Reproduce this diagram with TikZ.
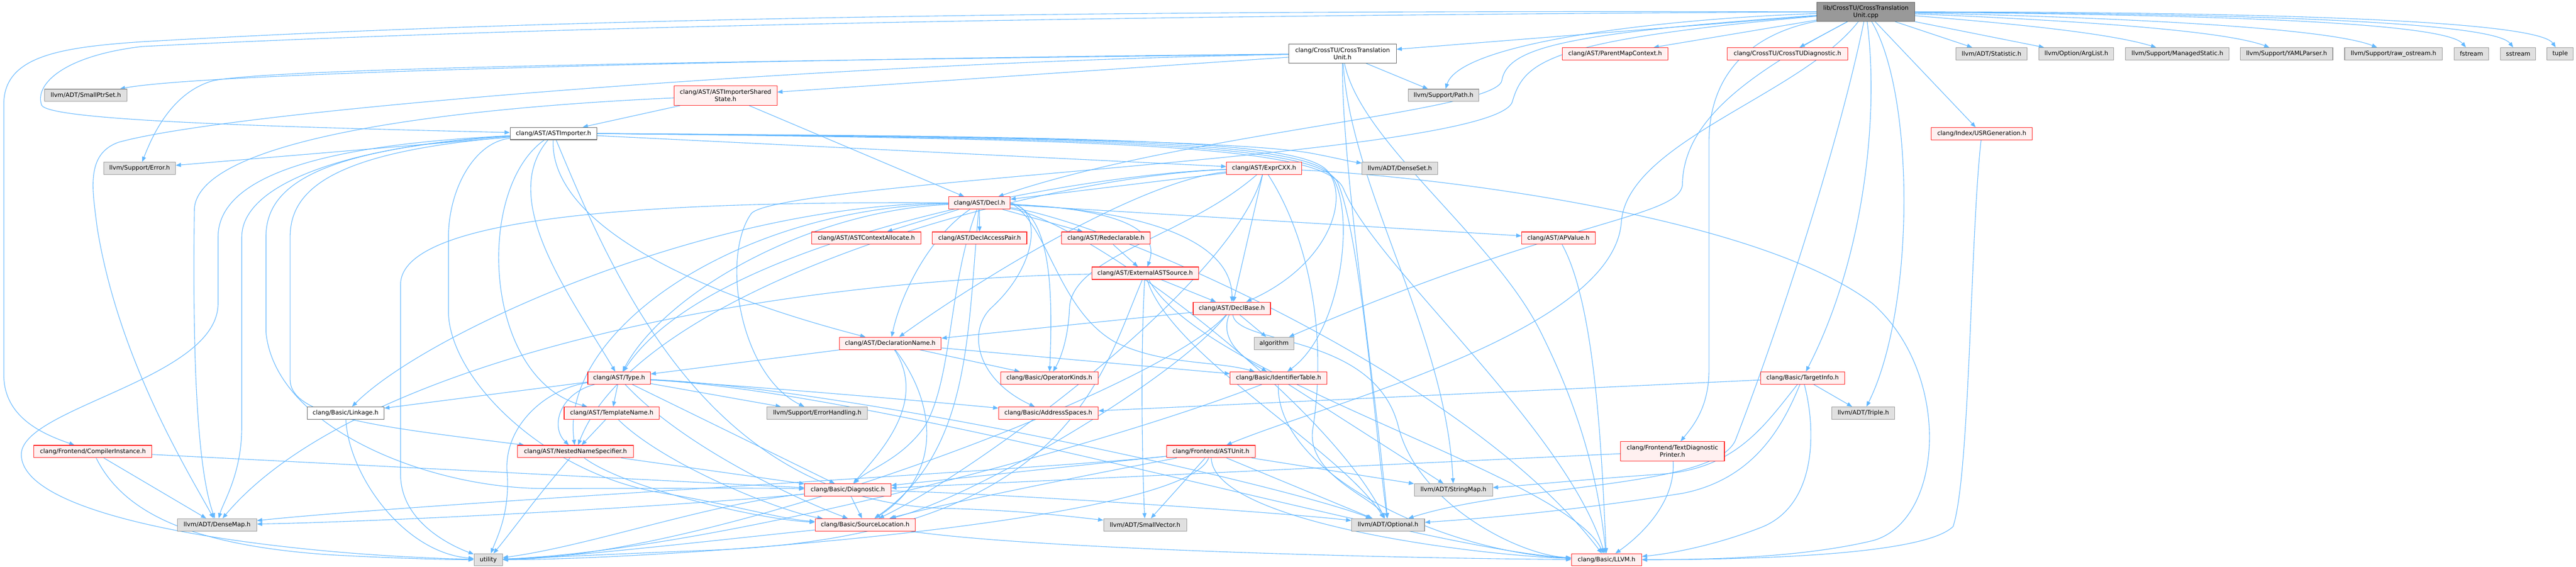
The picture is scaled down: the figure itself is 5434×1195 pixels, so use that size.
\documentclass[tikz,border=0pt]{standalone}
\usepackage{fontspec}
\setmainfont{DejaVu Sans}
\usetikzlibrary{arrows.meta}
\definecolor{edgeblue}{HTML}{63B8FF}
\definecolor{rootfill}{HTML}{999999}
\definecolor{darkb}{HTML}{666666}
\definecolor{greyb}{HTML}{999999}
\definecolor{greyfill}{HTML}{E0E0E0}
\definecolor{pinkfill}{HTML}{FFF0F0}
\definecolor{redb}{HTML}{FF2020}
\pgfdeclarelayer{background}
\pgfsetlayers{background,main}
\tikzset{
  base/.style={draw, line width=1.2pt, minimum height=26pt, inner sep=0pt, font=\fontsize{12.75}{15}\selectfont, align=center, text=black},
  nwhite/.style={base, draw=darkb, fill=white},
  ngray/.style={base, draw=greyb, fill=greyfill},
  nred/.style={base, draw=redb, fill=pinkfill},
  nroot/.style={base, draw=darkb, fill=rootfill},
  edg/.style={draw=edgeblue, line width=1.2pt, -{Triangle[length=11pt,width=8.5pt]}}
}
\begin{document}
\begin{tikzpicture}[x=1pt,y=-1pt]
\useasboundingbox (0,0) rectangle (5434,1195);
% ---------------- nodes ----------------
\node[nroot, minimum width=206pt, minimum height=40pt] (R) at (3936,25) {lib/CrossTU/CrossTranslation\\Unit.cpp};
\node[nwhite, minimum width=227pt, minimum height=40pt] (ctuh) at (2832,113) {clang/CrossTU/CrossTranslation\\Unit.h};
\node[nred, minimum width=217pt, minimum height=41pt] (shared) at (1530.5,201.5) {clang/AST/ASTImporterShared\\State.h};
\node[nwhite, minimum width=183pt] (asti) at (1167.5,281.5) {clang/AST/ASTImporter.h};
\node[ngray, minimum width=174pt] (smallptr) at (181,201) {llvm/ADT/SmallPtrSet.h};
\node[ngray, minimum width=151pt] (error) at (294.5,355) {llvm/Support/Error.h};
\node[nred, minimum width=222pt] (parentmap) at (3407,113.5) {clang/AST/ParentMapContext.h};
\node[nred, minimum width=255pt] (ctudiag) at (3770.5,113.5) {clang/CrossTU/CrossTUDiagnostic.h};
\node[ngray, minimum width=150pt] (statistic) at (4201,113.5) {llvm/ADT/Statistic.h};
\node[ngray, minimum width=158pt] (arglist) at (4380,113.5) {llvm/Option/ArgList.h};
\node[ngray, minimum width=218pt] (managed) at (4593,113.5) {llvm/Support/ManagedStatic.h};
\node[ngray, minimum width=195pt] (yaml) at (4823.5,113.5) {llvm/Support/YAMLParser.h};
\node[ngray, minimum width=206pt] (rawos) at (5049,113.5) {llvm/Support/raw\_ostream.h};
\node[ngray, minimum width=73pt] (fstream) at (5213.5,113.5) {fstream};
\node[ngray, minimum width=74pt] (sstream) at (5312,113.5) {sstream};
\node[ngray, minimum width=55pt] (tuple) at (5400.5,113.5) {tuple};
\node[ngray, minimum width=149pt] (path) at (3045,201) {llvm/Support/Path.h};
\node[ngray, minimum width=160pt] (denseset) at (2953,355) {llvm/ADT/DenseSet.h};
\node[nred, minimum width=158pt] (exprcxx) at (2666.5,355) {clang/AST/ExprCXX.h};
\node[nred, minimum width=213pt] (usrgen) at (4180.5,282) {clang/Index/USRGeneration.h};
\node[nred, minimum width=130pt] (decl) at (2066,428) {clang/AST/Decl.h};
\node[nred, minimum width=231pt] (astctxalloc) at (1827.5,502) {clang/AST/ASTContextAllocate.h};
\node[nred, minimum width=199pt] (declaccess) at (2066.5,502) {clang/AST/DeclAccessPair.h};
\node[nred, minimum width=187pt] (redecl) at (2333,502) {clang/AST/Redeclarable.h};
\node[nred, minimum width=155pt] (apvalue) at (3287.5,502) {clang/AST/APValue.h};
\node[nred, minimum width=225pt] (extast) at (2415.5,576) {clang/AST/ExternalASTSource.h};
\node[nred, minimum width=163pt] (declbase) at (2598.5,650) {clang/AST/DeclBase.h};
\node[nred, minimum width=215pt] (declname) at (1878,724) {clang/AST/DeclarationName.h};
\node[ngray, minimum width=84pt] (algorithm) at (2687.5,724) {algorithm};
\node[nred, minimum width=132pt] (type) at (1306,797) {clang/AST/Type.h};
\node[nred, minimum width=205pt] (opkinds) at (2213.5,797) {clang/Basic/OperatorKinds.h};
\node[nred, minimum width=204pt] (identtab) at (2697,797) {clang/Basic/IdentifierTable.h};
\node[nred, minimum width=177pt] (targetinfo) at (3802.5,797) {clang/Basic/TargetInfo.h};
\node[nred, minimum width=201pt] (templname) at (1290.5,871) {clang/AST/TemplateName.h};
\node[ngray, minimum width=212pt] (errhandling) at (1724,871) {llvm/Support/ErrorHandling.h};
\node[nred, minimum width=210pt] (addrspaces) at (2211.5,871) {clang/Basic/AddressSpaces.h};
\node[ngray, minimum width=133pt] (triple) at (3930.5,871) {llvm/ADT/Triple.h};
\node[nwhite, minimum width=162pt] (linkage) at (729,871) {clang/Basic/Linkage.h};
\node[nred, minimum width=249pt] (compinst) at (196,952) {clang/Frontend/CompilerInstance.h};
\node[nred, minimum width=244pt] (nns) at (1214,952) {clang/AST/NestedNameSpecifier.h};
\node[nred, minimum width=186pt] (astunit) at (2554.5,952) {clang/Frontend/ASTUnit.h};
\node[nred, minimum width=219pt, minimum height=41pt] (tdp) at (3528,951.5) {clang/Frontend/TextDiagnostic\\Printer.h};
\node[nred, minimum width=182pt] (diag) at (1788.5,1033) {clang/Basic/Diagnostic.h};
\node[ngray, minimum width=165pt] (stringmap) at (3066,1033) {llvm/ADT/StringMap.h};
\node[ngray, minimum width=167pt] (densemap) at (458,1106.5) {llvm/ADT/DenseMap.h};
\node[nred, minimum width=211pt] (srcloc) at (1825,1106.5) {clang/Basic/SourceLocation.h};
\node[ngray, minimum width=175pt] (smallvec) at (2415.5,1106.5) {llvm/ADT/SmallVector.h};
\node[ngray, minimum width=154pt] (optional) at (2928,1106.5) {llvm/ADT/Optional.h};
\node[ngray, minimum width=60pt, minimum height=25pt] (utility) at (1030,1180) {utility};
\node[nred, minimum width=148pt, minimum height=25pt] (llvmh) at (3389,1180) {clang/Basic/LLVM.h};
% ---------------- edges ----------------
\begin{pgfonlayer}{background}
\fill[white] (0,0) rectangle (5434,1195);
% root
\draw[edg] (R) -- (ctuh);
\draw[edg] (R.west) .. controls (2600,32) and (1300,48) .. (300,98) .. controls (130,118) and (72,180) .. (88,222) .. controls (105,252) and (500,266) .. (asti);
\draw[edg] (R.west) .. controls (2600,22) and (1300,30) .. (300,88) .. controls (120,100) and (8,120) .. (8,220) -- (8,790) .. controls (8,880) and (90,915) .. (compinst);
\draw[edg] (R) .. controls (3300,70) and (3180,100) .. (3168,170) .. controls (3155,235) and (2500,280) .. (decl);
\draw[edg] (R) .. controls (3260,85) and (3215,130) .. (3190,215) .. controls (3150,330) and (1650,380) .. (1585,450) .. controls (1520,540) and (1560,790) .. (errhandling);
\draw[edg] (R) -- (parentmap);
\draw[edg] (R) -- (ctudiag);
\draw[edg] (R) -- (statistic);
\draw[edg] (R) -- (arglist);
\draw[edg] (R) .. controls (4250,50) and (4450,70) .. (managed);
\draw[edg] (R) .. controls (4300,40) and (4680,60) .. (yaml);
\draw[edg] (R) .. controls (4400,35) and (4900,55) .. (rawos);
\draw[edg] (R) .. controls (4500,30) and (5150,40) .. (fstream);
\draw[edg] (R) .. controls (4600,28) and (5255,40) .. (sstream);
\draw[edg] (R) .. controls (4700,25) and (5350,40) .. (tuple);
\draw[edg] (R) -- (usrgen);
\draw[edg] (R) .. controls (3500,40) and (3080,90) .. (path);
\draw[edg] (R) .. controls (4040,200) and (4040,650) .. (triple);
\draw[edg] (R) .. controls (3965,250) and (3930,550) .. (targetinfo);
\draw[edg] (R) .. controls (3700,70) and (3605,150) .. (3605,300) -- (3605,780) .. controls (3605,860) and (3570,900) .. (tdp);
\draw[edg] (R) .. controls (3800,200) and (3430,300) .. (3420,470) .. controls (3400,700) and (2800,850) .. (astunit);
\draw[edg] (R) .. controls (3880,300) and (3750,700) .. (3660,930) .. controls (3610,1030) and (3200,1020) .. (optional);
\draw[edg] (R) .. controls (3700,150) and (3550,250) .. (3549,390) .. controls (3540,460) and (3300,460) .. (algorithm);
% CrossTranslationUnit.h
\draw[edg] (ctuh) -- (shared);
\draw[edg] (ctuh) .. controls (1800,122) and (450,150) .. (smallptr);
\draw[edg] (ctuh) .. controls (1800,126) and (600,140) .. (450,170) .. controls (360,195) and (320,290) .. (error);
\draw[edg] (ctuh) .. controls (1800,130) and (500,230) .. (250,300) .. controls (180,325) and (195,400) .. (205,480) .. controls (250,760) and (400,1000) .. (densemap);
\draw[edg] (ctuh) -- (path);
\draw[edg] (ctuh) .. controls (2830,350) and (2900,800) .. (optional);
\draw[edg] (ctuh) .. controls (2850,400) and (3050,700) .. (stringmap);
\draw[edg] (ctuh) .. controls (2870,300) and (3150,500) .. (3250,700) .. controls (3330,860) and (3370,1000) .. (llvmh);
% ASTImporterSharedState.h
\draw[edg] (shared) -- (asti);
\draw[edg] (shared) -- (decl);
\draw[edg] (shared) .. controls (900,230) and (420,300) .. (410,440) .. controls (405,800) and (420,1000) .. (densemap);
% ASTImporter.h
\draw[edg] (asti) -- (error);
\draw[edg] (asti) -- (exprcxx);
\draw[edg] (asti.east) .. controls (2000,286) and (2600,296) .. (2760,322) .. controls (2810,331) and (2845,340) .. (denseset);
\draw[edg] (asti.east) .. controls (2300,288) and (2740,293) .. (2800,360) .. controls (2850,420) and (2800,560) .. (declbase);
\draw[edg] (asti.east) .. controls (2300,290) and (2760,296) .. (2810,372) .. controls (2860,450) and (2830,700) .. (identtab);
\draw[edg] (asti.east) .. controls (2300,292) and (2780,299) .. (2822,385) .. controls (2870,500) and (2900,900) .. (optional);
\draw[edg] (asti.east) .. controls (2300,294) and (2795,302) .. (2834,398) .. controls (2900,560) and (3300,900) .. (llvmh);
\draw[edg] (asti) .. controls (1300,600) and (1500,1062) .. (2000,1072) .. controls (2150,1076) and (2250,1088) .. (smallvec);
\draw[edg] (asti) .. controls (1160,450) and (1400,600) .. (declname);
\draw[edg] (asti) .. controls (1050,420) and (1200,620) .. (type);
\draw[edg] (asti) .. controls (1000,400) and (1020,800) .. (templname);
\draw[edg] (asti) .. controls (700,320) and (612,400) .. (612,500) -- (612,800) .. controls (612,880) and (800,900) .. (nns);
\draw[edg] (asti) .. controls (650,315) and (561,400) .. (561,500) -- (561,700) .. controls (580,900) and (900,1030) .. (1150,1030) .. controls (1400,1030) and (1600,1028) .. (diag);
\draw[edg] (asti) .. controls (1000,300) and (946,400) .. (946,500) -- (946,660) .. controls (950,800) and (1150,1000) .. (1400,1040) .. controls (1550,1065) and (1650,1095) .. (srcloc);
\draw[edg] (asti) .. controls (760,305) and (510,380) .. (510,500) -- (510,900) .. controls (510,1000) and (470,1060) .. (densemap);
\draw[edg] (asti) .. controls (800,300) and (460,340) .. (460,500) -- (460,640) .. controls (460,800) and (40,860) .. (45,960) .. controls (50,1100) and (600,1170) .. (utility);
% ExprCXX.h
\draw[edg] (exprcxx) -- (decl);
\draw[edg] (exprcxx) -- (declbase);
\draw[edg] (exprcxx) .. controls (2400,380) and (2050,600) .. (declname);
\draw[edg] (exprcxx) .. controls (2300,365) and (1500,500) .. (type);
\draw[edg] (exprcxx) .. controls (2200,370) and (1350,600) .. (nns);
\draw[edg] (exprcxx) .. controls (2500,500) and (2260,540) .. (2256,650) .. controls (2253,720) and (2235,760) .. (opkinds);
\draw[edg] (exprcxx) .. controls (2600,600) and (2050,1000) .. (srcloc);
\draw[edg] (exprcxx) .. controls (2760,500) and (2800,700) .. (2770,900) .. controls (2750,1000) and (2900,1050) .. (optional);
\draw[edg] (exprcxx) .. controls (3000,370) and (3700,450) .. (3950,640) .. controls (4120,790) and (4100,1100) .. (3950,1140) .. controls (3800,1176) and (3600,1180) .. (llvmh);
% Decl.h
\draw[edg] (decl) -- (astctxalloc);
\draw[edg] (decl) -- (declaccess);
\draw[edg] (decl) -- (redecl);
\draw[edg] (decl) -- (apvalue);
\draw[edg] (decl) .. controls (2350,440) and (2450,480) .. (extast);
\draw[edg] (decl) .. controls (2450,445) and (2600,520) .. (declbase);
\draw[edg] (decl) .. controls (1960,500) and (1900,620) .. (declname);
\draw[edg] (decl) .. controls (1700,445) and (1400,620) .. (type);
\draw[edg] (decl) .. controls (1550,440) and (1180,700) .. (nns);
\draw[edg] (decl.east) .. controls (2200,440) and (2190,560) .. (2090,650) .. controls (2040,700) and (2060,800) .. (addrspaces);
\draw[edg] (decl.east) .. controls (2215,450) and (2222,600) .. (opkinds);
\draw[edg] (decl.east) .. controls (2210,470) and (2230,650) .. (2350,720) .. controls (2450,770) and (2560,760) .. (identtab);
\draw[edg] (decl) .. controls (2000,600) and (2010,800) .. (1950,900) .. controls (1900,970) and (1830,990) .. (diag);
\draw[edg] (decl) .. controls (2040,700) and (2050,950) .. (srcloc);
\draw[edg] (decl) .. controls (1500,430) and (900,700) .. (linkage);
\draw[edg] (decl) .. controls (2350,470) and (3100,800) .. (llvmh);
\draw[edg] (decl) .. controls (2300,470) and (2800,850) .. (optional);
\draw[edg] (decl) .. controls (1500,425) and (845,440) .. (845,600) -- (845,1000) .. controls (845,1100) and (950,1150) .. (utility);
% Redeclarable.h
\draw[edg] (redecl) -- (extast);
% ExternalASTSource.h
\draw[edg] (extast) -- (declbase);
\draw[edg] (extast) .. controls (2405,750) and (2410,1000) .. (smallvec);
\draw[edg] (extast) .. controls (1600,590) and (750,760) .. (densemap);
\draw[edg] (extast) .. controls (2320,800) and (2250,1130) .. (1500,1160) .. controls (1200,1172) and (1100,1178) .. (utility);
\draw[edg] (extast) .. controls (2470,750) and (2830,950) .. (optional);
\draw[edg] (extast) .. controls (2540,800) and (3300,1000) .. (llvmh);
% DeclBase.h
\draw[edg] (declbase) -- (algorithm);
\draw[edg] (declbase) .. controls (2570,720) and (2630,760) .. (identtab);
\draw[edg] (declbase) -- (declname);
\draw[edg] (declbase) .. controls (2480,800) and (2050,1050) .. (srcloc);
\draw[edg] (declbase) .. controls (2450,820) and (1500,1175) .. (utility);
\draw[edg] (declbase) .. controls (2610,730) and (2900,700) .. (2950,900) .. controls (2990,1060) and (3200,1170) .. (llvmh);
% DeclarationName.h
\draw[edg] (declname) -- (type);
\draw[edg] (declname) .. controls (1960,850) and (1850,960) .. (diag);
\draw[edg] (declname) .. controls (1975,850) and (1990,1000) .. (srcloc);
\draw[edg] (declname) -- (opkinds);
\draw[edg] (declname) -- (identtab);
% Type.h
\draw[edg] (type) .. controls (1180,830) and (1160,900) .. (nns);
\draw[edg] (type) -- (templname);
\draw[edg] (type) .. controls (1600,815) and (2000,850) .. (addrspaces);
\draw[edg] (type) -- (diag);
\draw[edg] (type) -- (errhandling);
\draw[edg] (type) -- (linkage);
\draw[edg] (type) .. controls (1450,950) and (1700,1060) .. (srcloc);
\draw[edg] (type) .. controls (1800,820) and (2700,1020) .. (optional);
\draw[edg] (type) .. controls (1900,830) and (3000,1160) .. (llvmh);
\draw[edg] (type) .. controls (1150,820) and (1060,900) .. (1070,1000) .. controls (1075,1080) and (1050,1130) .. (utility);
% TemplateName.h
\draw[edg] (templname) -- (nns);
\draw[edg] (templname) .. controls (1400,980) and (1650,1080) .. (srcloc);
% NestedNameSpecifier.h
\draw[edg] (nns) -- (diag);
\draw[edg] (nns) .. controls (1320,1030) and (1600,1095) .. (srcloc);
\draw[edg] (nns) .. controls (1130,1050) and (1080,1120) .. (utility);
% Diagnostic.h
\draw[edg] (diag) -- (srcloc);
\draw[edg] (diag) .. controls (1400,1070) and (800,1100) .. (densemap);
\draw[edg] (diag) .. controls (2100,1040) and (2700,1080) .. (optional);
\draw[edg] (diag) .. controls (1500,1060) and (1250,1150) .. (utility);
% SourceLocation.h
\draw[edg] (srcloc) .. controls (2200,1160) and (3000,1178) .. (llvmh);
\draw[edg] (srcloc) .. controls (1500,1140) and (1200,1175) .. (utility);
% Linkage.h
\draw[edg] (linkage) .. controls (735,1000) and (850,1165) .. (utility);
% IdentifierTable.h
\draw[edg] (identtab) -- (stringmap);
\draw[edg] (identtab) .. controls (2690,1000) and (3050,1165) .. (llvmh);
\draw[edg] (identtab) .. controls (2300,950) and (1500,1160) .. (utility);
% APValue.h
\draw[edg] (apvalue) .. controls (3370,650) and (3380,1000) .. (llvmh);
% TargetInfo.h
\draw[edg] (targetinfo) -- (addrspaces);
\draw[edg] (targetinfo) -- (triple);
\draw[edg] (targetinfo) .. controls (3720,900) and (3660,990) .. (3500,1000) .. controls (3350,1010) and (3200,1025) .. (stringmap);
\draw[edg] (targetinfo) .. controls (3760,900) and (3700,1010) .. (3550,1040) .. controls (3300,1080) and (3100,1095) .. (optional);
\draw[edg] (targetinfo) .. controls (3830,900) and (3835,1060) .. (3720,1110) .. controls (3620,1150) and (3520,1168) .. (llvmh);
% TextDiagnosticPrinter.h
\draw[edg] (tdp) -- (diag);
\draw[edg] (tdp) .. controls (3535,1060) and (3460,1130) .. (llvmh);
% ASTUnit.h
\draw[edg] (astunit) -- (stringmap);
\draw[edg] (astunit) -- (smallvec);
\draw[edg] (astunit) -- (optional);
\draw[edg] (astunit) -- (diag);
\draw[edg] (astunit) .. controls (2300,1000) and (2000,1060) .. (srcloc);
\draw[edg] (astunit) .. controls (2200,990) and (900,1060) .. (densemap);
\draw[edg] (astunit) .. controls (2500,1100) and (1400,1180) .. (utility);
\draw[edg] (astunit) .. controls (2560,1100) and (3100,1170) .. (llvmh);
% CompilerInstance.h
\draw[edg] (compinst) -- (diag);
\draw[edg] (compinst) -- (densemap);
\draw[edg] (compinst) .. controls (260,1080) and (400,1150) .. (700,1170) .. controls (850,1178) and (950,1180) .. (utility);
% USRGeneration.h
\draw[edg] (usrgen) .. controls (4156,500) and (4156,1000) .. (4120,1110) .. controls (4060,1170) and (3700,1180) .. (llvmh);
\end{pgfonlayer}
\end{tikzpicture}
\end{document}
